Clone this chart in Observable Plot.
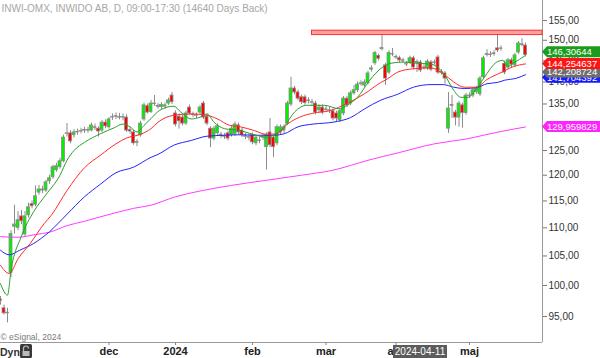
<!DOCTYPE html>
<html><head><meta charset="utf-8">
<script src="https://cdn.jsdelivr.net/npm/d3@7"></script>
<script src="https://cdn.jsdelivr.net/npm/@observablehq/plot@0.6"></script>
<style>
html,body{margin:0;padding:0;background:#fff;}
#chart svg{display:block;}
</style>
</head><body><div id="chart"></div>
<script>
// ---- data (trading-day index 0..150) ----
const opens = [97.7,96.3,95.5,102.1,110.2,110.0,112.1,108.8,112.3,114.4,
114.3,116.6,117.0,117.0,118.8,119.6,121.0,121.6,122.8,128.5,
128.6,128.2,128.8,129.0,129.2,129.3,129.2,129.9,129.6,129.2,
130.9,129.9,132.0,132.3,132.1,132.0,132.0,129.3,128.8,126.6,
128.2,131.6,134.5,133.2,135.1,134.6,134.3,134.4,135.1,136.9,
132.9,132.2,132.0,130.7,134.2,132.7,132.5,133.1,135.1,132.2,
129.6,127.5,128.6,128.3,128.0,128.6,128.2,128.4,130.3,129.2,
128.0,127.8,128.2,126.5,127.1,127.7,125.7,128.8,127.7,126.5,
128.8,129.2,130.7,134.9,138.5,137.6,136.5,136.5,135.8,135.3,
135.1,133.6,134.2,133.8,133.5,133.4,132.9,131.4,132.9,136.2,
135.1,137.4,138.1,139.5,139.2,139.7,142.9,144.4,146.2,147.8,
143.9,142.2,146.5,145.8,145.6,145.1,144.1,144.6,145.6,144.5,
144.6,143.4,143.2,144.6,144.5,145.8,142.3,142.0,129.6,134.6,
133.1,132.0,134.7,133.0,136.9,136.9,137.7,137.2,141.1,146.4,
146.5,146.6,148.0,147.9,144.3,143.4,145.1,143.9,147.0,149.0,
148.7];
const highs = [98.2,96.8,96.3,109.5,114.2,113.0,113.2,113.0,114.6,115.0,
117.9,118.0,117.8,119.0,120.0,122.0,122.4,123.4,128.2,130.7,
129.2,129.4,129.5,129.7,129.9,129.9,130.8,130.6,130.0,131.4,
131.5,132.0,132.8,133.0,132.9,132.8,132.6,129.8,129.3,127.3,
131.2,135.2,135.0,135.8,136.9,135.1,135.3,135.2,136.3,137.6,
133.5,132.8,132.5,133.4,134.8,133.2,133.0,134.7,135.6,132.7,
130.0,130.1,130.6,128.8,128.6,129.1,130.1,131.0,130.8,129.7,
128.6,128.4,128.7,128.2,127.8,128.4,128.7,131.8,128.2,130.4,
130.4,130.4,135.6,141.1,139.0,138.1,137.0,137.0,136.4,136.0,
135.6,134.8,134.8,134.4,134.2,133.9,133.4,133.9,136.7,136.7,
137.9,139.2,140.0,140.3,140.5,142.5,143.8,147.3,146.6,152.0,
144.4,147.4,148.0,146.4,146.1,145.6,144.8,146.1,146.1,145.2,
145.1,144.0,145.3,145.1,145.2,146.3,142.9,142.5,137.6,136.9,
133.6,135.6,135.2,137.4,137.5,138.6,139.0,141.3,146.1,147.7,
147.2,147.4,152.0,148.6,144.9,145.6,145.6,146.8,149.7,150.4,
149.3];
const lows = [96.8,95.2,94.0,101.3,108.9,109.5,110.6,108.3,111.8,113.5,
113.9,116.1,116.4,116.6,118.2,119.2,120.6,121.2,122.5,127.8,
126.4,127.6,128.2,128.5,128.6,128.6,128.9,129.2,127.8,128.8,
129.6,129.5,131.4,131.6,131.5,131.3,128.8,128.4,126.1,125.8,
127.8,131.2,132.8,132.9,134.5,133.9,133.8,133.9,134.7,134.9,
130.0,129.5,130.2,130.3,132.5,132.0,131.8,132.6,131.6,130.2,
125.6,127.0,128.2,127.5,127.3,127.0,127.8,128.0,128.3,127.7,
127.3,127.0,126.2,126.0,126.4,127.1,121.0,125.6,123.6,126.0,
128.3,128.6,130.3,134.4,137.1,135.7,134.9,134.7,135.0,134.7,
132.6,133.0,132.6,133.1,132.9,131.3,131.0,130.9,132.4,134.2,
134.6,137.0,137.6,139.0,138.8,139.3,142.3,143.9,145.0,147.4,
139.2,141.7,146.0,145.3,144.6,144.4,143.6,144.1,142.9,142.2,
142.2,142.8,142.7,142.4,144.0,141.7,141.6,139.5,128.6,131.8,
130.2,129.9,129.7,132.5,136.2,136.4,137.2,136.7,140.6,145.9,
145.8,146.1,147.0,147.3,141.7,142.9,143.2,143.4,146.5,148.4,
145.9];
const closes = [97.5,95.5,95.6,108.9,110.6,111.4,111.2,112.1,113.8,114.0,
115.9,117.2,117.2,118.6,119.4,121.6,121.8,122.8,127.7,128.6,
126.9,128.8,128.9,129.1,129.3,129.2,130.3,129.8,129.0,130.9,
130.1,131.6,132.1,132.2,132.0,132.1,129.2,129.0,126.5,126.8,
130.7,134.7,133.1,135.1,135.0,134.4,134.8,134.7,135.8,135.4,
130.5,131.2,130.7,132.9,132.9,132.6,132.4,134.2,132.0,130.7,
127.5,129.6,130.1,128.1,127.9,127.5,129.6,130.5,128.8,128.2,
127.9,127.7,126.7,127.7,127.0,127.8,128.2,126.1,125.7,129.9,
129.9,129.9,135.1,138.5,137.6,136.2,135.4,135.2,135.7,135.4,
133.1,134.2,133.1,133.7,133.6,131.8,131.8,133.4,136.2,134.7,
137.4,138.1,139.4,139.7,139.9,142.0,143.2,146.9,145.5,148.1,
140.8,146.9,146.6,145.9,145.1,145.0,144.2,145.6,143.4,144.7,
142.7,143.3,144.8,142.9,144.6,142.2,142.2,140.8,134.0,134.8,
132.0,135.1,133.0,136.9,136.8,138.1,138.5,140.8,145.6,146.6,
146.4,146.8,147.5,148.0,142.2,145.1,144.1,146.3,149.2,148.8,
146.4];

// moving averages
const greenIdx = [0,2,3,6,9.5,13,17,19,21,24,28.5,32.5,35,37,39,41,43,45.5,49.5,51.5,54.5,57,59,61,64,68.5,73,76,78,81,84,87.5,92.5,97,99,102,105.5,109,111.5,115,119,123,125.5,127,129.5,131.5,133.5,136,138,142,143.5,145,146.5,150];
const greenVal = [100.3,98.4,102.5,108.5,113.0,116.2,120.0,123.0,125.0,126.7,128.5,129.8,130.6,130.0,128.9,130.3,131.8,133.6,134.5,133.2,131.7,132.1,132.8,131.0,129.6,129.2,128.2,127.8,128.2,130.0,133.2,134.7,134.7,133.9,134.7,136.5,140.4,143.4,144.4,144.7,144.4,144.2,143.0,141.5,138.1,136.5,136.5,138.4,140.8,144.8,145.1,143.7,144.4,146.3];
const redIdx = [0,2.5,5,8.5,12.5,14.5,19,24,28.5,33,36,40,43,45,49.5,54.5,59,62,65.5,68.5,72.5,76,79,82,85.5,89.5,94,99,104,108.5,110.5,113.5,118,123,126.5,129.5,132.5,136,139,143,146.5,150];
const redVal = [103.4,102.0,104.5,107.2,110.8,112.3,117.0,121.5,124.0,126.4,127.6,128.4,129.6,131.0,132.5,132.8,132.5,131.7,130.3,130.0,129.2,128.4,128.5,130.6,132.1,133.0,133.5,135.1,137.3,139.8,140.7,142.3,143.1,143.3,141.9,140.0,138.8,138.8,140.6,142.2,143.6,144.25];
const blueIdx = [0,2.5,5.5,9.5,14,19,24,28.5,33,38,43,45,49.5,54.5,59,64,68.5,73.5,78,81,85,89.5,95,100,104,108.5,113.5,118,123,126.5,129.5,132.5,136,139,142,144,147.5,150];
const blueVal = [106.0,105.2,106.0,107.2,109.3,112.5,115.8,118.2,120.5,121.6,123.6,124.2,126.1,127.1,128.0,128.2,128.3,128.2,128.2,128.5,130.0,130.6,131.0,132.0,133.9,135.8,137.2,138.8,139.4,139.4,138.8,138.5,138.7,139.6,139.9,140.4,140.9,141.7];
const magIdx = [0,5,10,14,19,24,29,33,38,43,50,57,66,76,86,95,105,114,124,133,138,143,150];
const magVal = [108.4,108.3,108.8,109.2,110.4,111.2,112.1,112.8,113.6,114.2,115.8,116.9,118.0,119.0,120.0,121.0,123.0,124.6,126.4,127.4,128.2,129.0,129.96];

// resistance band
const bandStart = 89;
const bandLow = 151.3;
const bandHigh = 152.4;

// axis ticks
const yTicks = [95,100,105,110,115,120,125,130,135,140,145,150,155];
const monthIdx = [31,50,72,93,113,134];
const monthLabels = ["dec","2024","feb","mar","apr","maj"];

// right-side value tags
const tagNums = [146.30644,144.254637,142.208724,141.704392,129.959829];
const tagTexts = ["146,30644","144,254637","142,208724","141,704392","129,959829"];
const tagColors = ["#1c9c1c","#ff1414","#6e6e6e","#1a1aff","#ff24ff"];

const titleText = "INWI-OMX, INWIDO AB, D, 09:00-17:30 (14640 Days Back)";
const copyText = "© eSignal, 2024";
const cursorIdx = 120;
const cursorLabel = "2024-04-11";

// ---- build ----
const candles = opens.map((o, i) => ({i, o, h: highs[i], l: lows[i], c: closes[i]}));
const pts = (idx, val) => idx.map((i, k) => ({i, v: val[k]}));
const monthMap = new Map(monthIdx.map((d, k) => [d, monthLabels[k]]));
const fmt = v => v.toFixed(2).replace(".", ",");
const xDomain = [0, 542 / 3.5];
const yDomain = [91.0, 160.2];
const bw = 0.42;
const font = "'Liberation Sans', Arial, sans-serif";

const chart = Plot.plot({
  width: 600, height: 358,
  marginLeft: 0, marginRight: 58, marginTop: 0, marginBottom: 16,
  style: {fontFamily: font, fontSize: "10px", background: "#fff", overflow: "visible"},
  x: {domain: xDomain, axis: null},
  y: {type: "log", domain: yDomain, axis: null},
  marks: [
    Plot.text([titleText], {text: d => d, frameAnchor: "top-left", dx: 1, dy: 4, lineAnchor: "top", textAnchor: "start", fill: "#a6a6a6", fontSize: 10}),
    Plot.text([copyText], {text: d => d, frameAnchor: "bottom-left", dx: 0, dy: -3, lineAnchor: "bottom", textAnchor: "start", fill: "#7a7a7a", fontSize: 8.5}),
    Plot.ruleY([yDomain[0]], {stroke: "#9a9a9a"}),
    Plot.ruleX([xDomain[1]], {stroke: "#9a9a9a"}),
    Plot.axisY({anchor: "right", ticks: yTicks, tickFormat: fmt, tickSize: 4, tickPadding: 2, fontSize: 10, fill: "#333", stroke: "#777", label: null}),
    Plot.axisX({ticks: monthIdx, tickFormat: d => monthMap.get(d), tickSize: 3, tickPadding: 2, fontSize: 11, fontWeight: "bold", fill: "#222", stroke: "#888", label: null}),
    Plot.ruleX(candles, {x: "i", y1: "l", y2: "h", stroke: "#8c8c8c", strokeWidth: 1}),
    Plot.rect(candles, {filter: d => d.c > d.o, x1: d => d.i - bw, x2: d => d.i + bw, y1: "o", y2: "c", fill: "#00f000", stroke: "#8c8c8c", strokeWidth: 0.8}),
    Plot.rect(candles, {filter: d => d.c < d.o, x1: d => d.i - bw, x2: d => d.i + bw, y1: "o", y2: "c", fill: "#ff0000", stroke: "#8c8c8c", strokeWidth: 0.8}),
    Plot.rect(candles, {filter: d => d.c === d.o, x1: d => d.i - bw, x2: d => d.i + bw, y1: "o", y2: "c", fill: "#999", stroke: "#8c8c8c", strokeWidth: 0.8}),
    Plot.line(pts(magIdx, magVal), {x: "i", y: "v", stroke: "#ff3cff", strokeWidth: 1, curve: "monotone-x"}),
    Plot.line(pts(blueIdx, blueVal), {x: "i", y: "v", stroke: "#2323ff", strokeWidth: 1, curve: "monotone-x"}),
    Plot.line(pts(redIdx, redVal), {x: "i", y: "v", stroke: "#ff2a2a", strokeWidth: 1, curve: "monotone-x"}),
    Plot.line(pts(greenIdx, greenVal), {x: "i", y: "v", stroke: "#2a9e2a", strokeWidth: 1, curve: "monotone-x"}),
    Plot.rect([{a: bandStart, lo: bandLow, hi: bandHigh}], {x1: "a", x2: () => xDomain[1], y1: "lo", y2: "hi", fill: "#ff9f9f", stroke: "#ff3030", strokeWidth: 1})
  ]
});
document.getElementById("chart").appendChild(chart);

// ---- overlays positioned through Plot's scales ----
const svg = d3.select(chart);
const ys = chart.scale("y"), xs = chart.scale("x");
const right = xs.apply(xDomain[1]);
const tagNudge = [-3, 0, 0, 3, 0];
[3, 2, 1, 0, 4].forEach(k => {
  const yc = ys.apply(tagNums[k]) + tagNudge[k];
  svg.append("path")
    .attr("d", `M${right},${yc} L${right + 5},${yc - 5.5} H600 V${yc + 5.5} H${right + 5} Z`)
    .attr("fill", tagColors[k]);
  svg.append("text").attr("x", right + 5).attr("y", yc).attr("dy", "0.36em")
    .attr("text-anchor", "start")
    .attr("fill", "#fff").attr("font-size", 9.5).attr("font-family", font).text(tagTexts[k]);
});

// cursor date box on the x axis
const cx = xs.apply(cursorIdx);
svg.append("rect").attr("x", cx - 27).attr("y", 345).attr("width", 54).attr("height", 13).attr("fill", "#5c5c5c");
svg.append("text").attr("x", cx).attr("y", 351.5).attr("dy", "0.36em").attr("text-anchor", "middle")
  .attr("fill", "#fff").attr("font-size", 10).attr("font-family", font).text(cursorLabel);

// "Dyn" + lock button
svg.append("text").attr("x", 0).attr("y", 356).attr("text-anchor", "start").attr("font-weight", "bold").attr("font-size", 10.5)
  .attr("font-family", font).attr("fill", "#333").text("Dyn");
svg.append("rect").attr("x", 20).attr("y", 344).attr("width", 12).attr("height", 14).attr("rx", 1.5).attr("fill", "#3a3a3a");
svg.append("path").attr("d", "M23.5,351 v-2.5 a2.5,2.5 0 0 1 5,0").attr("fill", "none").attr("stroke", "#bbb").attr("stroke-width", 1.2);
svg.append("rect").attr("x", 22.5).attr("y", 351).attr("width", 7).attr("height", 5).attr("fill", "#bbb");
</script>
</body></html>
